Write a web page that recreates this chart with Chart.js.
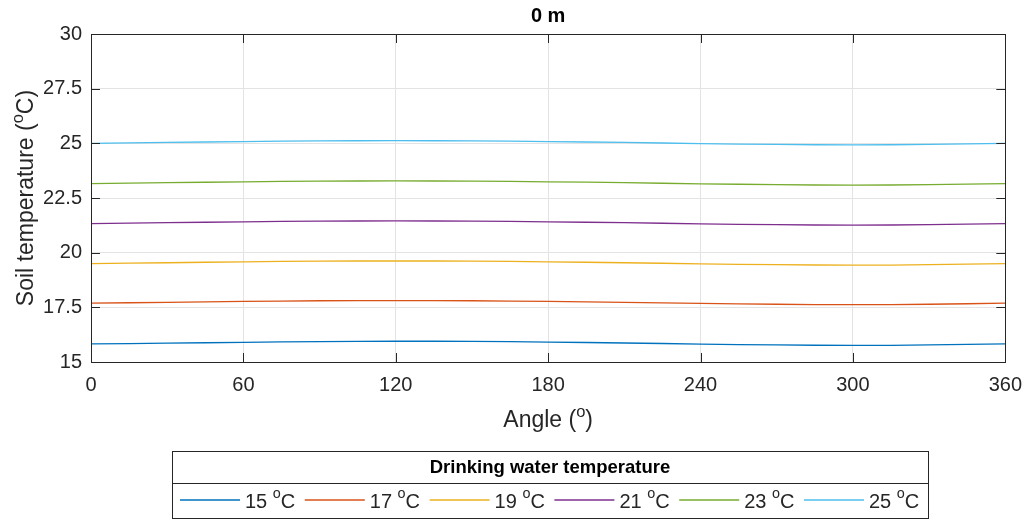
<!doctype html>
<html lang="en">
<head>
<meta charset="utf-8">
<title>0 m</title>
<script src="https://cdn.jsdelivr.net/npm/chart.js@4.4.1/dist/chart.umd.min.js"></script>
<style>
  html, body { margin: 0; padding: 0; background: #fff; }
  #wrap { width: 1033px; height: 520px; }
</style>
</head>
<body>
<div id="wrap"><canvas id="soilChart" width="1033" height="520"></canvas></div>
<script>
// angles read every 30 degrees
var angles = [0, 30, 60, 90, 120, 150, 180, 210, 240, 270, 300, 330, 360];

var t15 = [15.83, 15.86, 15.90, 15.93, 15.95, 15.94, 15.91, 15.87, 15.82, 15.78, 15.76, 15.78, 15.83];
var t17 = [17.69, 17.73, 17.77, 17.80, 17.81, 17.80, 17.77, 17.73, 17.68, 17.64, 17.62, 17.64, 17.69];
var t19 = [19.50, 19.54, 19.58, 19.61, 19.62, 19.61, 19.58, 19.54, 19.49, 19.45, 19.43, 19.45, 19.50];
var t21 = [21.33, 21.37, 21.41, 21.44, 21.45, 21.44, 21.41, 21.37, 21.32, 21.28, 21.26, 21.28, 21.33];
var t23 = [23.16, 23.20, 23.24, 23.27, 23.28, 23.27, 23.24, 23.20, 23.15, 23.11, 23.09, 23.11, 23.16];
var t25 = [25.00, 25.04, 25.08, 25.11, 25.12, 25.11, 25.08, 25.04, 24.99, 24.95, 24.93, 24.95, 25.00];

var waterTemps = ["15", "17", "19", "21", "23", "25"];
var seriesList = [t15, t17, t19, t21, t23, t25];
var colors = ["#0072BD", "#D95319", "#EDB120", "#7E2F8E", "#77AC30", "#4DBEEE"];

var FONT = "'Liberation Sans', Arial, Helvetica, sans-serif";
var INK = "#262626";

function pts(vals) {
  var out = [];
  for (var i = 0; i < angles.length; i++) out.push({ x: angles[i], y: vals[i] });
  return out;
}

var datasets = [];
for (var i = 0; i < seriesList.length; i++) {
  datasets.push({
    label: waterTemps[i] + " \u00B0C",
    data: pts(seriesList[i]),
    borderColor: colors[i],
    borderWidth: 1.3,
    pointRadius: 0,
    tension: 0.4,
    fill: false
  });
}

// draws text pieces, some raised as superscript
function drawParts(ctx, parts, x, y, size, align, bold) {
  var w = 0, p;
  for (p = 0; p < parts.length; p++) {
    ctx.font = (bold ? "bold " : "") + (parts[p].sup ? size * 0.72 : size) + "px " + FONT;
    w += ctx.measureText(parts[p].t).width;
  }
  var cx = align === "center" ? x - w / 2 : (align === "right" ? x - w : x);
  ctx.textBaseline = "middle";
  ctx.textAlign = "left";
  for (p = 0; p < parts.length; p++) {
    var s = parts[p].sup ? size * 0.72 : size;
    ctx.font = (bold ? "bold " : "") + s + "px " + FONT;
    ctx.fillText(parts[p].t, cx, parts[p].sup ? y - size * 0.38 : y);
    cx += ctx.measureText(parts[p].t).width;
  }
  return w;
}

var matlabLook = {
  id: "matlabLook",
  afterDraw: function (chart) {
    var ctx = chart.ctx, a = chart.chartArea;
    var xs = chart.scales.x, ys = chart.scales.y;
    ctx.save();
    // box
    ctx.strokeStyle = INK;
    ctx.lineWidth = 1;
    ctx.strokeRect(Math.round(a.left) + 0.5, Math.round(a.top) + 0.5, Math.round(a.right - a.left), Math.round(a.bottom - a.top));
    // inner ticks
    ctx.beginPath();
    xs.ticks.forEach(function (t) {
      var px = Math.round(xs.getPixelForValue(t.value)) + 0.5;
      ctx.moveTo(px, a.bottom); ctx.lineTo(px, a.bottom - 9);
      ctx.moveTo(px, a.top); ctx.lineTo(px, a.top + 9);
    });
    ys.ticks.forEach(function (t) {
      var py = Math.round(ys.getPixelForValue(t.value)) + 0.5;
      ctx.moveTo(a.left, py); ctx.lineTo(a.left + 9, py);
      ctx.moveTo(a.right, py); ctx.lineTo(a.right - 9, py);
    });
    ctx.stroke();

    ctx.fillStyle = "#000";
    var midX = (a.left + a.right) / 2;
    // title
    drawParts(ctx, [{ t: "0 m" }], midX, 16, 20, "center", true);
    ctx.fillStyle = INK;
    // x axis title
    drawParts(ctx, [{ t: "Angle (" }, { t: "o", sup: true }, { t: ")" }], midX, 421, 23, "center");
    // y axis title
    ctx.save();
    ctx.translate(27, (a.top + a.bottom) / 2);
    ctx.rotate(-Math.PI / 2);
    drawParts(ctx, [{ t: "Soil temperature (" }, { t: "o", sup: true }, { t: "C)" }], 0, 0, 23, "center");
    ctx.restore();

    // legend box
    var lx = 172, ly = 451, lw = 756, lh = 67;
    ctx.fillStyle = "#fff";
    ctx.fillRect(lx, ly, lw, lh);
    ctx.strokeStyle = INK;
    ctx.lineWidth = 1;
    ctx.strokeRect(lx + 0.5, ly + 0.5, lw, lh);
    ctx.beginPath();
    ctx.moveTo(lx, ly + 32.5); ctx.lineTo(lx + lw, ly + 32.5);
    ctx.stroke();
    ctx.fillStyle = "#000";
    drawParts(ctx, [{ t: "Drinking water temperature" }], lx + lw / 2, ly + 17, 18.5, "center", true);
    var ds = chart.data.datasets;
    for (var k = 0; k < ds.length; k++) {
      var ex = 180 + k * 124.8;
      var ey = ly + 49;
      ctx.strokeStyle = ds[k].borderColor;
      ctx.lineWidth = 1.5;
      ctx.beginPath();
      ctx.moveTo(ex, ey); ctx.lineTo(ex + 60, ey);
      ctx.stroke();
      ctx.fillStyle = INK;
      drawParts(ctx, [{ t: waterTemps[k] + " " }, { t: "o", sup: true }, { t: "C" }], ex + 65, ey + 2, 20, "left");
    }
    ctx.restore();
  }
};

new Chart(document.getElementById("soilChart"), {
  type: "line",
  data: { datasets: datasets },
  options: {
    responsive: false,
    animation: false,
    layout: { padding: { left: 0, right: 27, top: 34, bottom: 128 } },
    plugins: { legend: { display: false }, tooltip: { enabled: false } },
    scales: {
      x: {
        type: "linear",
        min: 0, max: 360,
        afterFit: function (s) { s.height = 30; },
        ticks: { stepSize: 60, color: INK, font: { family: FONT, size: 20 }, padding: 11, maxRotation: 0 },
        grid: { color: "#e3e3e3", drawTicks: false },
        border: { display: false }
      },
      y: {
        min: 15, max: 30,
        afterFit: function (s) { s.width = 91; },
        ticks: { stepSize: 2.5, color: INK, font: { family: FONT, size: 20 }, padding: 9 },
        grid: { color: "#e3e3e3", drawTicks: false },
        border: { display: false }
      }
    }
  },
  plugins: [matlabLook]
});
</script>
</body>
</html>
